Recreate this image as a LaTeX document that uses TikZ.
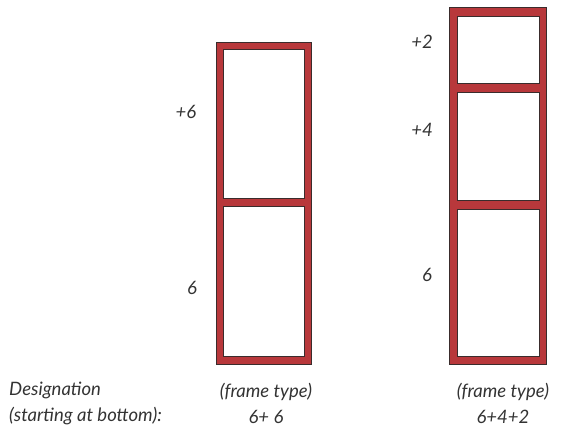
\documentclass[tikz,border=0pt]{standalone}
\usepackage{fontspec}
\setmainfont{Lato}
\usetikzlibrary{positioning}

\begin{document}
\begin{tikzpicture}[x=1pt,y=-1pt]
    \definecolor{framered}{HTML}{B8383B}
    \definecolor{frameedge}{HTML}{3A2C2C}
    \tikzset{frameouter/.style={fill=framered,draw=frameedge,line width=0.8pt},
             frameopening/.style={fill=white,draw=frameedge,line width=0.8pt},
             lbl/.style={font=\fontsize{18.5}{26}\selectfont\itshape,inner sep=0pt,text=black!80}}
    \useasboundingbox (0,0) rectangle (568,429);
    % frame 6+6
    \draw[frameouter] (216,42.5) rectangle (311.5,364);
    \draw[frameopening] (223.5,49.5) rectangle (304.5,198.5);
    \draw[frameopening] (223.5,206.5) rectangle (304.5,356.5);
    % frame 6+4+2
    \draw[frameouter] (449.5,7.5) rectangle (546.5,364);
    \draw[frameopening] (457,16) rectangle (539,83);
    \draw[frameopening] (457,92) rectangle (539,200);
    \draw[frameopening] (457,209) rectangle (539,356.5);
    % section labels
    \node[lbl] (topA) at (186,112) {+6};
    \node[lbl] (botA) at (192,288) {6};
    \node[lbl] (topB) at (422,42) {+2};
    \node[lbl] (midB) at (422,130) {+4};
    \node[lbl] (botB) at (427,275) {6};
    % designations
    \node[lbl,anchor=west,align=left] (desig) at (9,403) {Designation\\(starting at bottom):};
    \node[lbl,align=center] (typeA) at (266,403) {(frame type)\\6+ 6};
    \node[lbl,align=center] (typeB) at (503,403) {(frame type)\\6+4+2};
\end{tikzpicture}
\end{document}
